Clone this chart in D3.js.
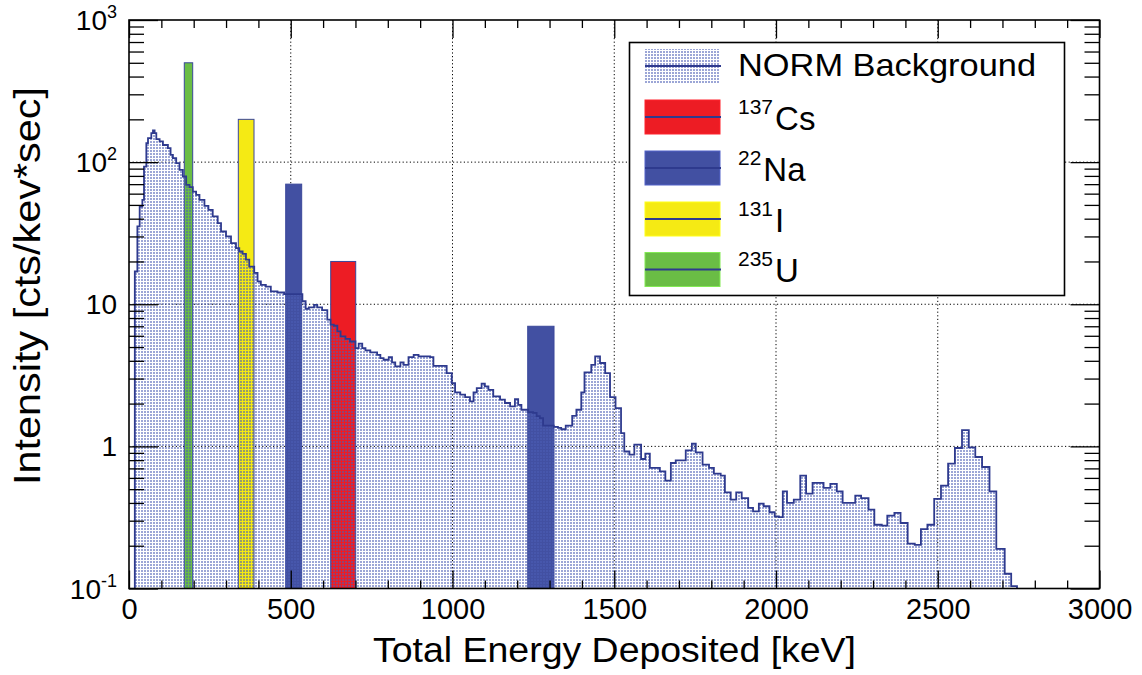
<!DOCTYPE html>
<html><head><meta charset="utf-8">
<script src="https://cdnjs.cloudflare.com/ajax/libs/d3/7.8.5/d3.min.js"></script>
<style>
body{margin:0;background:#fff}
text{font-family:"Liberation Sans",Arial,Helvetica,sans-serif;fill:#000}
</style>
</head><body>
<svg id="c" width="1142" height="675"></svg>
<script>
// ---------- data ----------
const normEdges = [18,25.9,33,41.3,46.4,53.6,58.7,69,74.1,79.2,84.4,94.6,104.9,120.3,128.5,135.7,145.9,156.2,166.5,176.7,187,197.3,207.5,217.8,233.2,245.5,258.8,274.2,284.5,299.9,315.3,330.7,340.9,351.2,361.5,371.7,387.1,397.4,407.6,423,438.4,459,479.5,536,546,556,572,582,597,613,623,633,644,654,669,683,700,710,721,731,746,767,777,787,803,813,823,839,849,864,880,895,916,931,941,982,998,1008,1024,1039,1054,1065,1075,1090,1100,1111,1126,1147,1162,1178,1193,1203,1213,1234,1249,1260,1270,1280,1313,1326,1336,1350,1370,1383,1398,1408,1429,1441,1456,1472,1487,1504,1521,1531,1547,1562,1583,1596,1610,1641,1658,1675,1690,1721,1740,1752,1773,1793,1808,1829,1842,1860,1877,1894,1914,1929,1947,1962,1980,1996,2009,2021,2034,2055,2075,2093,2113,2147,2168,2188,2206,2245,2263,2286,2304,2327,2344,2366,2385,2407,2429,2448,2468,2489,2510,2532,2553,2575,2596,2616,2637,2660,2681,2707,2727,2745];
const normValues = [17,35.3,48.7,54.3,93,136,147.5,160,167,160,145,140,132,125.5,112.5,106.7,98.4,88.3,79.2,69.2,66.7,62.1,58.9,54.3,49.3,46.2,41.5,37.2,32.5,30,26.9,24.8,23.5,22.6,20.6,18.4,16.6,14.5,13.7,13.3,12.3,12.1,11.8,10.5,9.3,9.5,9.9,9.5,9.1,7.8,7.2,7.06,6.44,5.94,5.7,5.47,4.92,5.28,4.92,4.74,4.58,4.41,4.18,4.07,4.25,3.9,3.65,3.9,3.75,4.25,4.41,4.3,4.3,4.25,3.69,3.28,2.79,2.4,2.31,2.22,2.07,2.4,2.57,2.76,2.64,2.5,2.25,2.13,2.02,1.91,2.15,1.96,1.81,1.74,1.72,1.63,1.58,1.4,1.37,1.35,1.32,1.4,1.64,1.81,2.4,3.32,3.75,4.3,3.86,3.28,2.22,1.86,1.24,0.92,0.874,1.03,0.815,0.888,0.705,0.667,0.574,0.764,0.798,0.938,1.045,0.908,0.744,0.705,0.643,0.622,0.475,0.422,0.475,0.433,0.369,0.349,0.395,0.379,0.344,0.322,0.318,0.483,0.4,0.422,0.622,0.465,0.553,0.51,0.544,0.483,0.4,0.45,0.433,0.359,0.281,0.277,0.326,0.34,0.289,0.207,0.203,0.262,0.281,0.427,0.529,0.756,0.974,1.3,0.984,0.842,0.716,0.483,0.19,0.127,0.104];

const sourceNuclide   = ["235U","131I","22Na","137Cs","22Na"];
const sourceLow       = [170.9,337.9,484.4,623.5,1232.5];
const sourceHigh      = [196.9,386.4,533.8,700.8,1313.8];
const sourceIntensity = [500,200,70,20,7];

const legendMass    = ["","137","22","131","235"];
const legendElement = ["NORM Background","Cs","Na","I","U"];
const legendKey     = ["NORM","137Cs","22Na","131I","235U"];

const xTickValues = [0,500,1000,1500,2000,2500,3000];
const yTickValues = [0.1,1,10,100,1000];
const yTickBase   = ["10","1","10","10","10"];
const yTickExp    = ["-1","","","2","3"];

const xTitle = "Total Energy Deposited [keV]";
const yTitle = "Intensity [cts/kev*sec]";

// ---------- style ----------
const colors = {"235U":"#6abd45","131I":"#f5ea14","22Na":"#4250a2","137Cs":"#ed1c24"};
const lineColor = "#2e3a8e";
const L=129, R=1099.5, T=20, B=588.5;

const svg = d3.select("#c");
const x = d3.scaleLinear().domain([0,3000]).range([L,R]);
const y = d3.scaleLog().domain([0.1,1000]).range([B,T]);

const defs = svg.append("defs");
const pat = defs.append("pattern").attr("id","dots").attr("patternUnits","userSpaceOnUse")
  .attr("width",3).attr("height",3);
pat.append("rect").attr("x",0).attr("y",0).attr("width",2).attr("height",2)
  .attr("fill","#4a5db4").attr("fill-opacity",0.55);

// grid
const gridX = xTickValues.filter(v=>v>0 && v<3000);
const gridY = yTickValues.filter(v=>v>0.1 && v<1000);
svg.append("g").selectAll("line").data(gridX).join("line")
  .attr("x1",d=>x(d)).attr("x2",d=>x(d)).attr("y1",T).attr("y2",B)
  .attr("stroke","#000").attr("stroke-width",1).attr("stroke-dasharray","1.2,2.4");
svg.append("g").selectAll("line").data(gridY).join("line")
  .attr("y1",d=>y(d)).attr("y2",d=>y(d)).attr("x1",L).attr("x2",R)
  .attr("stroke","#000").attr("stroke-width",1).attr("stroke-dasharray","1.2,2.4");

// source bars
svg.append("g").selectAll("rect").data(sourceNuclide.map((n,i)=>({n,lo:sourceLow[i],hi:sourceHigh[i],v:sourceIntensity[i]})))
  .join("rect")
  .attr("x",d=>x(d.lo)).attr("width",d=>x(d.hi)-x(d.lo))
  .attr("y",d=>y(d.v)).attr("height",d=>B-y(d.v))
  .attr("fill",d=>colors[d.n]).attr("stroke","#3a479a").attr("stroke-width",1);

// NORM histogram
const pts = [{e:normEdges[0],v:0.1}];
normValues.forEach((v,i)=>pts.push({e:normEdges[i],v}));
pts.push({e:normEdges[normEdges.length-1],v:normValues[normValues.length-1]});
pts.push({e:normEdges[normEdges.length-1],v:0.1});
const area = d3.area().curve(d3.curveStepAfter).x(d=>x(d.e)).y0(B).y1(d=>y(Math.max(d.v,0.1)));
svg.append("path").attr("d",area(pts)).attr("fill","url(#dots)");
const line = d3.line().curve(d3.curveStepAfter).x(d=>x(d.e)).y(d=>y(Math.max(d.v,0.1)));
svg.append("path").attr("d",line(pts)).attr("fill","none").attr("stroke",lineColor).attr("stroke-width",1.8);

// axes ticks
const xMinor = d3.range(0,3001,100).filter(v=>v%500!==0);
function axisG(axis, tr){ const g=svg.append("g").attr("transform",tr).call(axis); g.select(".domain").remove(); g.selectAll("line").attr("stroke","#000").attr("stroke-width",1.3); return g; }
const xb = axisG(d3.axisBottom(x).tickValues(xTickValues).tickSize(-18).tickPadding(10).tickFormat(d3.format("d")), `translate(0,${B})`);
xb.selectAll("text").attr("font-size",29).attr("font-family",'"Liberation Sans",Arial,sans-serif');
axisG(d3.axisBottom(x).tickValues(xMinor).tickSize(-8).tickFormat(""), `translate(0,${B})`);
axisG(d3.axisTop(x).tickValues(xTickValues).tickSize(-18).tickFormat(""), `translate(0,${T})`);
axisG(d3.axisTop(x).tickValues(xMinor).tickSize(-8).tickFormat(""), `translate(0,${T})`);
const yMinor = [];
[0.1,1,10,100].forEach(dec=>{for(let k=2;k<=9;k++) yMinor.push(dec*k);});
axisG(d3.axisLeft(y).tickValues(yTickValues).tickSize(-29).tickFormat(""), `translate(${L},0)`);
axisG(d3.axisLeft(y).tickValues(yMinor).tickSize(-15).tickFormat(""), `translate(${L},0)`);
axisG(d3.axisRight(y).tickValues(yTickValues).tickSize(-29).tickFormat(""), `translate(${R},0)`);
axisG(d3.axisRight(y).tickValues(yMinor).tickSize(-15).tickFormat(""), `translate(${R},0)`);

// frame
svg.append("rect").attr("x",L).attr("y",T).attr("width",R-L).attr("height",B-T)
  .attr("fill","none").attr("stroke","#000").attr("stroke-width",1.6);

// y tick labels
yTickValues.forEach((v,i)=>{
  const t = svg.append("text").attr("x",117).attr("y",y(v)+10).attr("text-anchor","end").attr("font-size",28);
  t.append("tspan").text(yTickBase[i]);
  if(yTickExp[i]) t.append("tspan").attr("dy",-12).attr("font-size",18).text(yTickExp[i]);
});

// axis titles
svg.append("text").attr("x",373).attr("y",661.5).attr("font-size",35)
  .attr("textLength",483).attr("lengthAdjust","spacingAndGlyphs").text(xTitle);
svg.append("text").attr("transform","translate(40,485) rotate(-90)").attr("font-size",36)
  .attr("textLength",398).attr("lengthAdjust","spacingAndGlyphs").text(yTitle);

// legend
const lg = svg.append("g");
lg.append("rect").attr("x",629.5).attr("y",42.5).attr("width",435).attr("height",253)
  .attr("fill","#fff").attr("stroke","#000").attr("stroke-width",1.6);
const rowCenters = [66,117,168,219,269.5];
legendKey.forEach((k,i)=>{
  const cy = rowCenters[i];
  lg.append("rect").attr("x",645).attr("y",cy-17).attr("width",75).attr("height",34)
    .attr("fill", k==="NORM" ? "url(#dots)" : colors[k])
    .attr("stroke", k==="NORM" ? "none" : d3.color(colors[k]).brighter(0.6)).attr("stroke-width",1);
  lg.append("line").attr("x1",645).attr("x2",721).attr("y1",cy).attr("y2",cy)
    .attr("stroke",lineColor).attr("stroke-width",2);
  if(k==="NORM"){
    lg.append("text").attr("x",738).attr("y",cy+10).attr("font-size",32)
      .attr("textLength",298).attr("lengthAdjust","spacingAndGlyphs").text(legendElement[i]);
  } else {
    const t = lg.append("text").attr("x",738).attr("y",cy+12.5).attr("font-size",33);
    t.append("tspan").attr("font-size",21).attr("dy",-16).text(legendMass[i]);
    t.append("tspan").attr("dy",16).attr("dx",2).text(legendElement[i]);
  }
});
</script>
</body></html>
